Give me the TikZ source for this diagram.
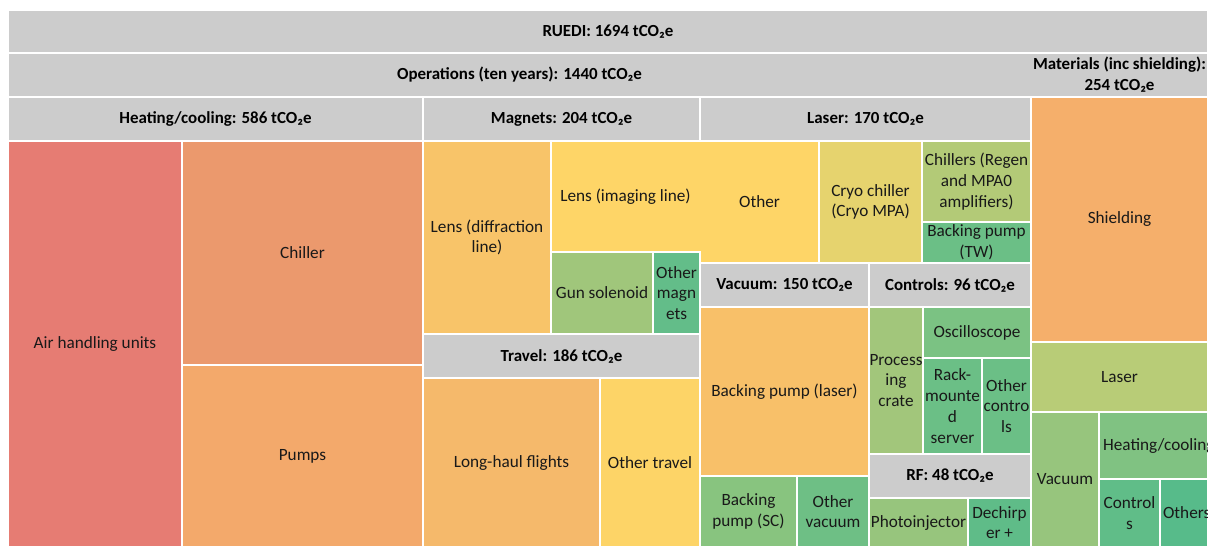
\documentclass[tikz,border=0pt]{standalone}
\usepackage{fontspec}
\setmainfont{Carlito}
\usetikzlibrary{positioning}

\definecolor{hdrgrey}{HTML}{CCCCCC}
\definecolor{airred}{HTML}{E67C73}
\definecolor{chillorange}{HTML}{EB996D}
\definecolor{pumporange}{HTML}{F3A96B}
\definecolor{lensorange}{HTML}{F8C469}
\definecolor{lensyellow}{HTML}{FED567}
\definecolor{gungreen}{HTML}{A0C67B}
\definecolor{magnetgreen}{HTML}{63BD89}
\definecolor{flightorange}{HTML}{F5B96B}
\definecolor{travelyellow}{HTML}{FDD467}
\definecolor{cryoyellow}{HTML}{E6D36E}
\definecolor{regengreen}{HTML}{B3CA77}
\definecolor{twgreen}{HTML}{6BBF86}
\definecolor{laserpump}{HTML}{F8C069}
\definecolor{scgreen}{HTML}{88C47F}
\definecolor{vacgreen}{HTML}{6EBF85}
\definecolor{crategreen}{HTML}{A2C67B}
\definecolor{scopegreen}{HTML}{7BC283}
\definecolor{rackgreen}{HTML}{6BBF86}
\definecolor{photogreen}{HTML}{97C57D}
\definecolor{dechgreen}{HTML}{5FBC88}
\definecolor{shieldorange}{HTML}{F5AF6B}
\definecolor{matlaser}{HTML}{B8CC77}
\definecolor{matvac}{HTML}{97C57D}
\definecolor{matheat}{HTML}{80C282}
\definecolor{matctrl}{HTML}{60BD88}
\definecolor{matother}{HTML}{57BB8A}

\begin{document}
\begin{tikzpicture}[x=0.75pt,y=-0.75pt]

  \tikzstyle{every node}=[font=\fontsize{12.9}{15.6}\selectfont, align=center, text=black!90]
  \tikzstyle{cell}=[draw=white, line width=1.1pt]
  \tikzstyle{head}=[cell, fill=hdrgrey]
  \tikzstyle{headtext}=[font=\fontsize{12.7}{15.6}\selectfont\bfseries, text=black]
  \useasboundingbox (0,0) rectangle (1208,547);

  %%% Group headers
  \draw [head] (8,10) rectangle node (ruedi) [headtext] {RUEDI: 1694 tCO₂e} (1208,53);
  \draw [head] (8,53) rectangle node (ops) [headtext] {Operations (ten years): 1440 tCO₂e} (1031,97);
  \draw [head] (1031,53) rectangle node (mat) [headtext] {Materials (inc shielding):\\ 254 tCO₂e} (1208,97);
  \fill [hdrgrey] (1029,54) rectangle (1033,96);
  \draw [head] (8,97) rectangle node (heat) [headtext] {Heating/cooling: 586 tCO₂e} (423,141);
  \draw [head] (423,97) rectangle node (mag) [headtext] {Magnets: 204 tCO₂e} (700,141);
  \draw [head] (700,97) rectangle node (las) [headtext] {Laser: 170 tCO₂e} (1031,141);
  \draw [head] (423,334) rectangle node (trav) [headtext] {Travel: 186 tCO₂e} (700,378);
  \draw [head] (700,263) rectangle node (vac) [headtext] {Vacuum: 150 tCO₂e} (869,307);
  \draw [head] (869,263) rectangle node (ctrl) [headtext] {Controls: 96 tCO₂e} (1031,307);
  \draw [head] (869,454) rectangle node (rf) [headtext] {RF: 48 tCO₂e} (1031,498);

  %%% Heating/cooling
  \draw [cell, fill=airred] (8,141) rectangle node (air) {Air handling units} (182,547);
  \draw [cell, fill=chillorange] (182,141) rectangle node (chill) {Chiller} (423,365);
  \draw [cell, fill=pumporange] (182,365) rectangle node (pumps) {Pumps} (423,547);

  %%% Magnets
  \draw [cell, fill=lensorange] (423,141) rectangle node (lensd) {Lens (diffraction\\ line)} (551,334);
  \draw [cell, fill=lensyellow] (551,141) rectangle node (lensi) {Lens (imaging line)} (700,252);
  \draw [cell, fill=gungreen] (551,252) rectangle node (gun) {Gun solenoid} (653,334);
  \draw [cell, fill=magnetgreen] (653,252) rectangle node (othmag) {Other\\ magn\\ ets} (700,334);

  %%% Travel
  \draw [cell, fill=flightorange] (423,378) rectangle node (flights) {Long-haul flights} (600,547);
  \draw [cell, fill=travelyellow] (600,378) rectangle node (othtrav) {Other travel} (700,547);

  %%% Laser
  \draw [cell, fill=lensyellow] (700,141) rectangle node (othlas) {Other} (819,263);
  \fill [lensyellow] (698,142) rectangle (702,251);
  \draw [cell, fill=cryoyellow] (819,141) rectangle node (cryo) {Cryo chiller\\ (Cryo MPA)} (922,263);
  \draw [cell, fill=regengreen] (922,141) rectangle node (regen) {Chillers (Regen\\ and MPA0\\ amplifiers)} (1031,222);
  \draw [cell, fill=twgreen] (922,222) rectangle node (twpump) {Backing pump\\ (TW)} (1031,263);

  %%% Vacuum
  \draw [cell, fill=laserpump] (700,307) rectangle node (lpump) {Backing pump (laser)} (869,476);
  \draw [cell, fill=scgreen] (700,476) rectangle node (scpump) {Backing\\ pump (SC)} (797,547);
  \draw [cell, fill=vacgreen] (797,476) rectangle node (othvac) {Other\\ vacuum} (869,547);

  %%% Controls
  \draw [cell, fill=crategreen] (869,307) rectangle node (crate) {Process\\ ing\\ crate} (923,454);
  \draw [cell, fill=scopegreen] (923,307) rectangle node (scope) {Oscilloscope} (1031,358);
  \draw [cell, fill=rackgreen] (923,358) rectangle node (rack) {Rack-\\ mounte\\ d\\ server} (982,454);
  \draw [cell, fill=rackgreen] (982,358) rectangle node (othctrl) {Other\\ contro\\ ls} (1031,454);

  %%% RF
  \draw [cell, fill=photogreen] (869,498) rectangle node (photo) {Photoinjector} (968,547);
  \draw [cell, fill=dechgreen] (968,498) rectangle node (dech) {Dechirp\\ er +} (1031,547);

  %%% Materials
  \draw [cell, fill=shieldorange] (1031,97) rectangle node (shield) {Shielding} (1208,342);
  \draw [cell, fill=matlaser] (1031,342) rectangle node (mlaser) {Laser} (1208,412);
  \draw [cell, fill=matvac] (1031,412) rectangle node (mvac) {Vacuum} (1099,547);
  \draw [cell, fill=matheat] (1099,412) rectangle node (mheat) [xshift=4] {Heating/cooling} (1208,479);
  \draw [cell, fill=matctrl] (1099,479) rectangle node (mctrl) {Control\\ s} (1160,547);
  \draw [cell, fill=matother] (1160,479) rectangle node (mother) [xshift=2] {Others} (1208,547);

\end{tikzpicture}
\end{document}
